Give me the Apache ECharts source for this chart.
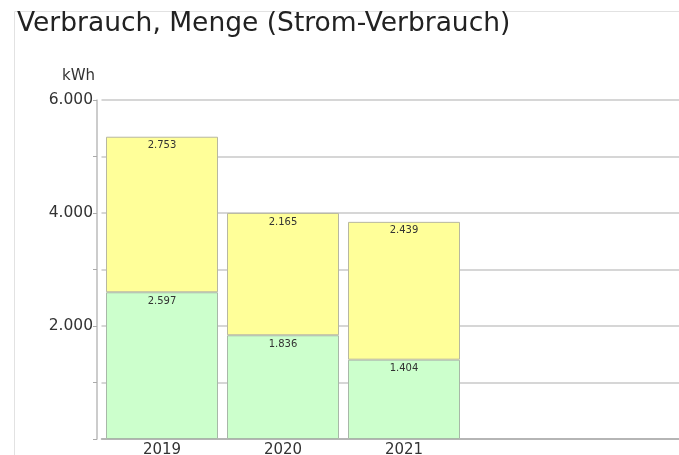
<!DOCTYPE html>
<html>
<head>
<meta charset="utf-8">
<script src="https://cdn.jsdelivr.net/npm/echarts@6/dist/echarts.min.js"></script>
<style>
  html, body { margin: 0; padding: 0; background: #fff; }
  #main { width: 679px; height: 455px; }
</style>
</head>
<body>
<div id="main"></div>
<script>
var years = ["2019", "2020", "2021"];
var unten = [2597, 1836, 1404];
var oben = [2753, 2165, 2439];
var yTicks = [0, 2000, 4000, 6000];

// zwei leere Plaetze rechts, die Achse laeuft ueber den Rand hinaus
var categories = years.concat(["", ""]);

function fmt(v) {
  return String(v).replace(/\B(?=(\d{3})+(?!\d))/g, ".");
}

var myChart = echarts.init(document.getElementById("main"));

myChart.setOption({
  backgroundColor: "#ffffff",
  animation: false,
  textStyle: { fontFamily: "DejaVu Sans" },
  title: {
    text: "Verbrauch, Menge (Strom-Verbrauch)",
    left: 12,
    top: 6,
    textStyle: {
      fontFamily: "DejaVu Sans",
      fontSize: 26.5,
      fontWeight: "normal",
      color: "#222",
    },
  },
  graphic: [
    {
      type: "rect",
      left: 12,
      top: 9,
      shape: { width: 700, height: 460 },
      style: { fill: "none", stroke: "#e2e2e2", lineWidth: 1 },
      silent: true,
    },
  ],
  grid: {
    left: 101.5,
    right: -27.5,
    top: 100,
    bottom: 16,
    outerBoundsMode: "none",
  },
  xAxis: {
    type: "category",
    data: categories,
    axisLine: { lineStyle: { color: "#aaa", width: 1.5 } },
    axisTick: { show: false },
    axisLabel: {
      fontSize: 15,
      color: "#333",
      margin: 4,
    },
  },
  yAxis: {
    type: "value",
    min: yTicks[0],
    max: yTicks[yTicks.length - 1],
    interval: 1000,
    offset: 4.5,
    name: "kWh",
    nameLocation: "end",
    nameGap: 24,
    nameTextStyle: {
      fontSize: 15,
      color: "#333",
      align: "right",
      verticalAlign: "middle",
      padding: [0, 2, 0, 0],
    },
    axisLine: { show: true, lineStyle: { color: "#bbb", width: 1.5 } },
    axisTick: { show: true, length: 4, lineStyle: { color: "#aaa" } },
    axisLabel: {
      fontSize: 15.5,
      color: "#333",
      margin: 4,
      formatter: function (v) {
        return yTicks.indexOf(v) >= 0 && v !== 0 ? fmt(v) : "";
      },
    },
    splitLine: { lineStyle: { color: "#c8c8c8", width: 1.5 } },
  },
  series: [
    {
      name: "unten",
      type: "bar",
      stack: "a",
      barWidth: 112,
      data: unten,
      itemStyle: { color: "#ccffcc", borderColor: "#a8b8a8", borderWidth: 1 },
      label: {
        show: true,
        position: "insideTop",
        distance: 4,
        fontSize: 10,
        color: "#333",
        formatter: function (p) {
          return fmt(p.value);
        },
      },
    },
    {
      name: "oben",
      type: "bar",
      stack: "a",
      barWidth: 112,
      data: oben,
      itemStyle: { color: "#ffff99", borderColor: "#b8b8a0", borderWidth: 1 },
      label: {
        show: true,
        position: "insideTop",
        distance: 4,
        fontSize: 10,
        color: "#333",
        formatter: function (p) {
          return fmt(p.value);
        },
      },
    },
  ],
});
</script>
</body>
</html>
